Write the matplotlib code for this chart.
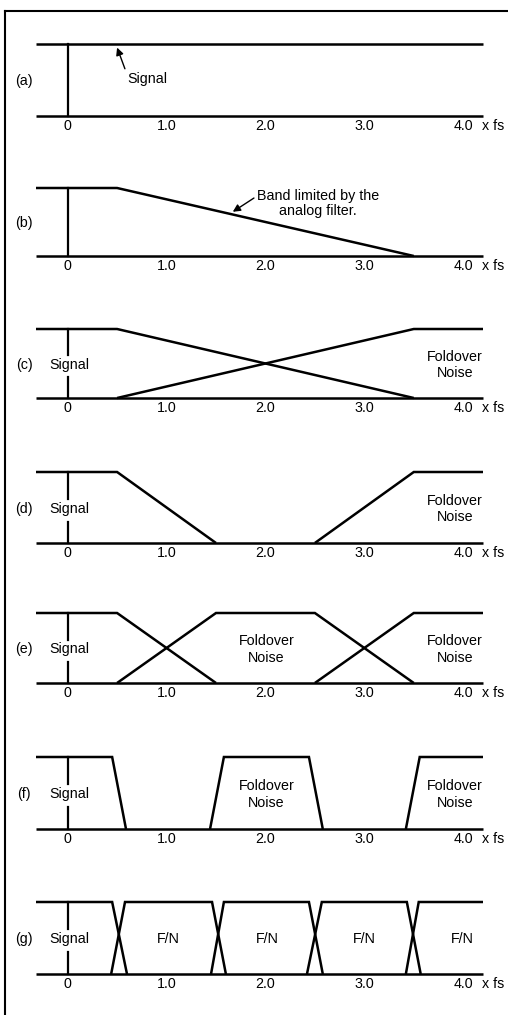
import matplotlib
matplotlib.use("Agg")
import matplotlib.pyplot as plt
from matplotlib.lines import Line2D

plt.rcParams['font.family'] = ['Liberation Sans', 'DejaVu Sans']

# frequency axis, in multiples of fs
X_LEFT, X_RIGHT = -0.32, 4.2
tick_values = [0, 1, 2, 3, 4]
tick_labels = ['0', '1.0', '2.0', '3.0', '4.0']

# (a) ideal signal, flat over the whole band
a_sig_x = [X_LEFT, X_RIGHT]
a_sig_y = [1, 1]

# (b) band limited by the analog filter
b_sig_x = [X_LEFT, 0.5, 3.5]
b_sig_y = [1, 1, 0]

# (c)
c_sig_x = [X_LEFT, 0.5, 3.5]
c_sig_y = [1, 1, 0]
c_noise_x = [0.5, 3.5, X_RIGHT]
c_noise_y = [0, 1, 1]

# (d)
d_sig_x = [X_LEFT, 0.5, 1.5]
d_sig_y = [1, 1, 0]
d_noise_x = [2.5, 3.5, X_RIGHT]
d_noise_y = [0, 1, 1]

# (e)
e_sig_x = [X_LEFT, 0.5, 1.5]
e_sig_y = [1, 1, 0]
e_noise1_x = [0.5, 1.5, 2.5, 3.5]
e_noise1_y = [0, 1, 1, 0]
e_noise2_x = [2.5, 3.5, X_RIGHT]
e_noise2_y = [0, 1, 1]

# (f)
f_sig_x = [X_LEFT, 0.45, 0.59]
f_sig_y = [1, 1, 0]
f_noise1_x = [1.44, 1.58, 2.44, 2.58]
f_noise1_y = [0, 1, 1, 0]
f_noise2_x = [3.42, 3.56, X_RIGHT]
f_noise2_y = [0, 1, 1]

# (g)
g_sig_x = [X_LEFT, 0.45, 0.60]
g_sig_y = [1, 1, 0]
g_n1_x = [0.44, 0.58, 1.46, 1.60]
g_n2_x = [1.45, 1.58, 2.44, 2.58]
g_n3_x = [2.42, 2.57, 3.43, 3.57]
g_n4_x = [3.42, 3.55, X_RIGHT]
g_band_y = [0, 1, 1, 0]
g_edge_y = [0, 1, 1]

# panel name, top / baseline pixel rows
panels = ['(a)', '(b)', '(c)', '(d)', '(e)', '(f)', '(g)']
tops = [44, 188, 329, 472, 613, 757, 902]
bases = [116, 256, 398, 543, 683, 829, 974]

W, H = 508, 1015
fig = plt.figure(figsize=(W / 100, H / 100), dpi=100)

LW = 1.8
FS = 10.3

axes = []
for name, top, base in zip(panels, tops, bases):
    ax = fig.add_axes([36 / W, 1 - base / H, 447 / W, (base - top) / H])
    ax.set_xlim(X_LEFT, X_RIGHT)
    ax.set_ylim(0, 1)
    for s in ax.spines.values():
        s.set_visible(False)
    ax.set_yticks([])
    ax.set_xticks(tick_values, tick_labels)
    ax.tick_params(axis='x', length=0, pad=2, labelsize=FS)
    ax.plot([X_LEFT, X_RIGHT], [0, 0], color='k', lw=LW, clip_on=False, solid_capstyle='butt')
    ax.annotate('x fs', xy=(4.19, 0), xytext=(0, -2), textcoords='offset points',
                ha='left', va='top', fontsize=FS, annotation_clip=False)
    ax.text(-0.44, 0.48, name, ha='center', va='center', fontsize=FS, clip_on=False)
    axes.append(ax)


def line(ax, x, y):
    ax.plot(x, y, color='k', lw=LW, clip_on=False, solid_joinstyle='miter', solid_capstyle='butt')


def signal_mark(ax, broken=True):
    if broken:
        ax.plot([0, 0], [0, 0.3], color='k', lw=1.6, clip_on=False)
        ax.plot([0, 0], [0.62, 1], color='k', lw=1.6, clip_on=False)
        ax.text(0.02, 0.48, 'Signal', ha='center', va='center', fontsize=FS)
    else:
        ax.plot([0, 0], [0, 1], color='k', lw=1.6, clip_on=False)


def noise_text(ax, x, txt='Foldover\nNoise'):
    ax.text(x, 0.48, txt, ha='center', va='center', fontsize=FS, linespacing=1.2)


# (a)
ax = axes[0]
line(ax, a_sig_x, a_sig_y)
signal_mark(ax, broken=False)
ax.annotate('Signal', xy=(0.5, 0.95), xytext=(0.6, 0.52), ha='left', va='center', fontsize=FS,
            arrowprops=dict(arrowstyle='-|>', color='k', lw=1.0, shrinkA=0, shrinkB=0,
                            mutation_scale=11, relpos=(0, 0.8)))

# (b)
ax = axes[1]
line(ax, b_sig_x, b_sig_y)
signal_mark(ax, broken=False)
ax.annotate('Band limited by the\nanalog filter.', xy=(1.67, 0.65), xytext=(2.53, 0.77),
            ha='center', va='center', fontsize=FS, linespacing=1.15,
            arrowprops=dict(arrowstyle='-|>', color='k', lw=1.0, shrinkA=0, shrinkB=0,
                            mutation_scale=11, relpos=(0, 0.75)))

# (c)
ax = axes[2]
line(ax, c_sig_x, c_sig_y)
line(ax, c_noise_x, c_noise_y)
signal_mark(ax)
noise_text(ax, 3.92)

# (d)
ax = axes[3]
line(ax, d_sig_x, d_sig_y)
line(ax, d_noise_x, d_noise_y)
signal_mark(ax)
noise_text(ax, 3.92)

# (e)
ax = axes[4]
line(ax, e_sig_x, e_sig_y)
line(ax, e_noise1_x, e_noise1_y)
line(ax, e_noise2_x, e_noise2_y)
signal_mark(ax)
noise_text(ax, 2.01)
noise_text(ax, 3.92)

# (f)
ax = axes[5]
line(ax, f_sig_x, f_sig_y)
line(ax, f_noise1_x, f_noise1_y)
line(ax, f_noise2_x, f_noise2_y)
signal_mark(ax)
noise_text(ax, 2.01)
noise_text(ax, 3.92)

# (g)
ax = axes[6]
line(ax, g_sig_x, g_sig_y)
for xs in [g_n1_x, g_n2_x, g_n3_x]:
    line(ax, xs, g_band_y)
line(ax, g_n4_x, g_edge_y)
signal_mark(ax)
for xc in [1.02, 2.02, 3.0, 3.99]:
    noise_text(ax, xc, 'F/N')

# page frame (left and top edges of the scanned figure box)
fig.add_artist(Line2D([5 / W, 5 / W], [0, 1 - 11 / H], color='k', lw=1.5))
fig.add_artist(Line2D([5 / W, 1], [1 - 11 / H, 1 - 11 / H], color='k', lw=1.5))

fig.savefig('out.png', dpi=100)
